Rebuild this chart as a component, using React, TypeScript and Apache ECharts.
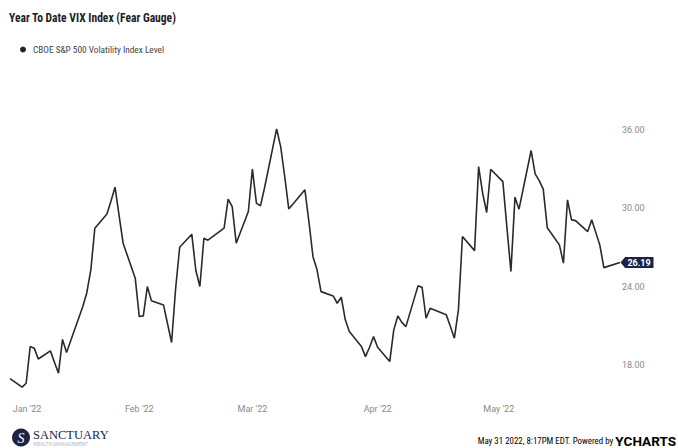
import React, { useEffect, useRef } from "react";
import * as echarts from "echarts";

// VIX daily closes, year to date (trading days)
const dates: string[] = [
  "2021-12-31",
  "2022-01-03", "2022-01-04", "2022-01-05", "2022-01-06", "2022-01-07",
  "2022-01-10", "2022-01-11", "2022-01-12", "2022-01-13", "2022-01-14",
  "2022-01-18", "2022-01-19", "2022-01-20", "2022-01-21",
  "2022-01-24", "2022-01-25", "2022-01-26", "2022-01-27", "2022-01-28",
  "2022-01-31", "2022-02-01", "2022-02-02", "2022-02-03", "2022-02-04",
  "2022-02-07", "2022-02-08", "2022-02-09", "2022-02-10", "2022-02-11",
  "2022-02-14", "2022-02-15", "2022-02-16", "2022-02-17", "2022-02-18",
  "2022-02-22", "2022-02-23", "2022-02-24", "2022-02-25",
  "2022-02-28", "2022-03-01", "2022-03-02", "2022-03-03", "2022-03-04",
  "2022-03-07", "2022-03-08", "2022-03-09", "2022-03-10", "2022-03-11",
  "2022-03-14", "2022-03-15", "2022-03-16", "2022-03-17", "2022-03-18",
  "2022-03-21", "2022-03-22", "2022-03-23", "2022-03-24", "2022-03-25",
  "2022-03-28", "2022-03-29", "2022-03-30", "2022-03-31", "2022-04-01",
  "2022-04-04", "2022-04-05", "2022-04-06", "2022-04-07", "2022-04-08",
  "2022-04-11", "2022-04-12", "2022-04-13", "2022-04-14",
  "2022-04-18", "2022-04-19", "2022-04-20", "2022-04-21", "2022-04-22",
  "2022-04-25", "2022-04-26", "2022-04-27", "2022-04-28", "2022-04-29",
  "2022-05-02", "2022-05-03", "2022-05-04", "2022-05-05", "2022-05-06",
  "2022-05-09", "2022-05-10", "2022-05-11", "2022-05-12", "2022-05-13",
  "2022-05-16", "2022-05-17", "2022-05-18", "2022-05-19", "2022-05-20",
  "2022-05-23", "2022-05-24", "2022-05-25", "2022-05-26", "2022-05-27",
  "2022-05-31",
];

const vixLevel: number[] = [
  17.3,
  16.64, 16.94, 19.75, 19.63, 18.8,
  19.42, 18.55, 17.71, 20.3, 19.29,
  22.8, 23.86, 25.6, 28.82,
  29.9, 30.9, 31.96, 29.8, 27.67,
  24.99, 22.05, 22.1, 24.35, 23.27,
  22.94, 21.5, 20.06, 24.2, 27.36,
  28.36, 25.6, 24.35, 28.05, 27.9,
  28.82, 31.04, 30.48, 27.67,
  30.1, 33.34, 30.74, 30.53, 31.9,
  36.43, 35.07, 32.8, 30.3, 30.66,
  31.76, 29.3, 26.64, 25.63, 23.96,
  23.63, 23.07, 23.53, 21.8, 20.9,
  19.75, 18.98, 19.7, 20.51, 19.7,
  18.6, 21.03, 22.1, 21.6, 21.28,
  24.4, 24.3, 21.92, 22.69,
  22.18, 21.3, 20.39, 22.56, 28.18,
  27.1, 33.54, 31.5, 30.02, 33.34,
  32.39, 28.9, 25.5, 31.2, 30.28,
  34.77, 32.98, 32.47, 31.81, 28.86,
  27.54, 26.14, 30.99, 29.46, 29.4,
  28.56, 29.46, 28.5, 27.54, 25.8,
  26.19,
];

const yTicks: number[] = [18, 24, 30, 36];
const monthNames: string[] = ["Jan", "Feb", "Mar", "Apr", "May", "Jun", "Jul", "Aug", "Sep", "Oct", "Nov", "Dec"];

const seriesName = "CBOE S&P 500 Volatility Index Level";
const titleText = "Year To Date VIX Index (Fear Gauge)";
const footerText = "May 31 2022, 8:17PM EDT. Powered by ";

const SANS = "Roboto, sans-serif";
const NARROW = "'Liberation Sans Narrow', 'Roboto Condensed', 'DejaVu Sans Condensed', Roboto, sans-serif";
const NAVY = "#1c2347";

export default function App() {
  const ref = useRef<HTMLDivElement>(null);

  useEffect(() => {
    document.body.style.margin = "0";
    if (!ref.current) return;
    const chart = echarts.init(ref.current, undefined, { renderer: "svg" });

    const points = dates.map((d, i) => [d, vixLevel[i]]);
    const last = points[points.length - 1];

    chart.setOption({
      animation: false,
      backgroundColor: "#ffffff",
      legend: {
        left: 15,
        top: 40,
        icon: "circle",
        itemWidth: 6,
        itemHeight: 6,
        itemGap: 6,
        data: [seriesName],
        textStyle: { fontFamily: NARROW, fontSize: 9.3, color: "#444", padding: [0, 0, 0, 2] },
      },
      grid: { left: 10, right: 58, top: 61, bottom: 53 },
      xAxis: {
        type: "time",
        min: dates[0],
        max: dates[dates.length - 1],
        splitNumber: 5,
        axisLine: { show: false },
        axisTick: { show: false },
        splitLine: { show: false },
        axisLabel: {
          fontFamily: SANS,
          fontSize: 9,
          color: "#8a8a8a",
          margin: 9,
          formatter: (v: number) => {
            const d = new Date(v);
            const txt = `${monthNames[d.getMonth()]} '${String(d.getFullYear()).slice(2)}`;
            return d.getMonth() === 0 ? `{first|${txt}}` : txt;
          },
          rich: {
            first: { fontFamily: SANS, fontSize: 9, color: "#8a8a8a", padding: [0, 0, 0, 26] },
          },
        },
      },
      yAxis: {
        type: "value",
        position: "right",
        min: 16.04,
        max: 41.63,
        axisLine: { show: false },
        axisTick: { show: false },
        splitLine: { show: false },
        axisLabel: {
          customValues: yTicks,
          fontFamily: SANS,
          fontSize: 9,
          color: "#8a8a8a",
          margin: 2,
          verticalAlign: "bottom",
          lineHeight: 9,
          formatter: (v: number) => v.toFixed(2),
        },
      },
      series: [
        {
          name: seriesName,
          type: "line",
          data: points,
          showSymbol: false,
          symbol: "circle",
          color: "#222222",
          lineStyle: { color: "#2a2a2a", width: 1.6 },
          markPoint: {
            silent: true,
            symbol: "path://M0,6 L5,0 L36,0 L36,12 L5,12 Z",
            symbolSize: [33, 11],
            symbolKeepAspect: false,
            symbolOffset: [17, 0],
            itemStyle: { color: NAVY },
            label: {
              show: true,
              position: "inside",
              offset: [2, 0],
              color: "#ffffff",
              fontFamily: SANS,
              fontWeight: "bold",
              fontSize: 9,
              formatter: () => (last[1] as number).toFixed(2),
            },
            data: [{ coord: last }],
          },
        },
      ],
      graphic: [
        {
          type: "text",
          x: 9,
          y: 17.5,
          scaleX: 0.89,
          style: {
            text: titleText,
            fill: "#1e1e1e",
            font: `bold 13px ${NARROW}`,
            verticalAlign: "middle",
          },
        },
        {
          type: "circle",
          shape: { cx: 21, cy: 437.5, r: 9 },
          style: { fill: NAVY },
        },
        {
          type: "text",
          x: 21,
          y: 438,
          style: {
            text: "S",
            fill: "#ffffff",
            font: "italic 14px 'Liberation Serif', serif",
            align: "center",
            verticalAlign: "middle",
          },
        },
        {
          type: "text",
          x: 33,
          y: 434.5,
          style: {
            text: "SANCTUARY",
            fill: NAVY,
            font: "12.5px 'Liberation Serif', 'DejaVu Serif', serif",
            verticalAlign: "middle",
          },
        },
        {
          type: "text",
          x: 33,
          y: 443.5,
          style: {
            text: "WEALTH MANAGEMENT",
            fill: "#b4b8c4",
            font: "5px Roboto, sans-serif",
            verticalAlign: "middle",
          },
        },
        {
          type: "text",
          x: 676,
          y: 441,
          style: {
            text: `{a|${footerText}}{y|Y}{b|CHARTS}`,
            align: "right",
            verticalAlign: "middle",
            rich: {
              a: { fontFamily: NARROW, fontSize: 8.9, color: "#333333" },
              y: { fontFamily: SANS, fontSize: 13.5, fontWeight: "bold", color: "#2f9bd6" },
              b: { fontFamily: SANS, fontSize: 13.5, fontWeight: "bold", color: NAVY },
            },
          },
        },
      ],
    });

    return () => chart.dispose();
  }, []);

  return <div ref={ref} style={{ width: 678, height: 448 }} />;
}
